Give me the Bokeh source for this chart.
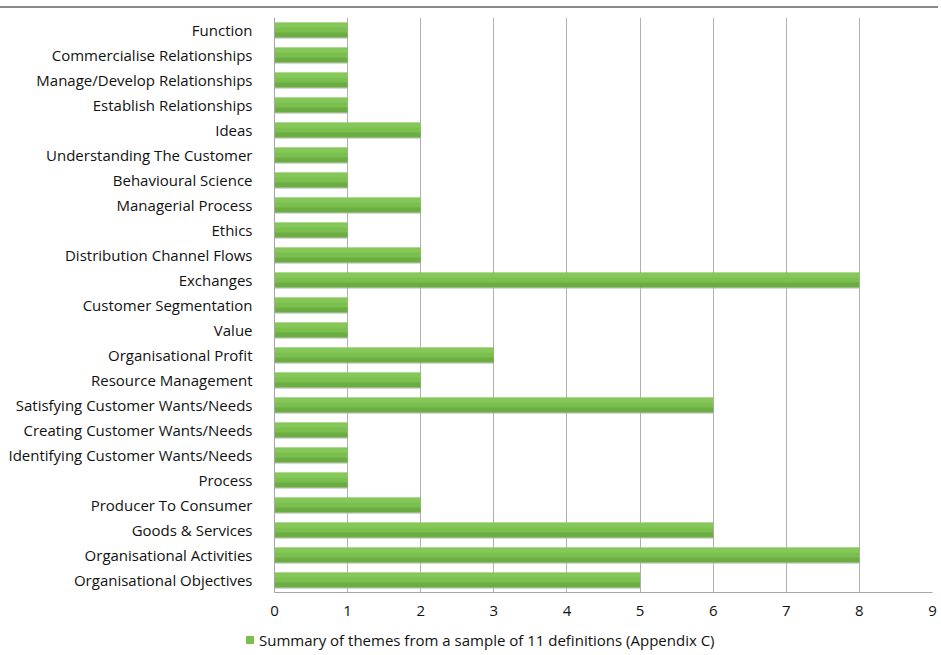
from bokeh.plotting import figure
from bokeh.layouts import column
from bokeh.models import FactorRange, ColumnDataSource, Div
from bokeh.transform import dodge
from bokeh.embed import file_html
from bokeh.resources import INLINE

# Categories from top to bottom as shown
categories_top_down = [
    "Function",
    "Commercialise Relationships",
    "Manage/Develop Relationships",
    "Establish Relationships",
    "Ideas",
    "Understanding The Customer",
    "Behavioural Science",
    "Managerial Process",
    "Ethics",
    "Distribution Channel Flows",
    "Exchanges",
    "Customer Segmentation",
    "Value",
    "Organisational Profit",
    "Resource Management",
    "Satisfying Customer Wants/Needs",
    "Creating Customer Wants/Needs",
    "Identifying Customer Wants/Needs",
    "Process",
    "Producer To Consumer",
    "Goods & Services",
    "Organisational Activities",
    "Organisational Objectives",
]
counts_top_down = [1, 1, 1, 1, 2, 1, 1, 2, 1, 2, 8, 1, 1, 3, 2, 6, 1, 1, 1, 2, 6, 8, 5]
x_ticks = [0, 1, 2, 3, 4, 5, 6, 7, 8, 9]
series_name = "Summary of themes from a sample of 11 definitions (Appendix C)"

cats = list(reversed(categories_top_down))
vals = list(reversed(counts_top_down))
src = ColumnDataSource(dict(cat=cats, val=vals))

FONT = "Open Sans"
BAR = "#7bc04e"

p = figure(
    width=938, height=617,
    y_range=FactorRange(factors=cats, range_padding=0),
    x_range=(0, 9),
    output_backend="svg", toolbar_location=None,
    min_border_left=274, min_border_right=6, min_border_top=9, min_border_bottom=33,
)
p.outline_line_color = None
p.styles = {"border-top": "2px solid #8a8a8a", "margin-top": "6px"}

# shadow
p.hbar(y=dodge("cat", -0.06, range=p.y_range), right="val", left=0, height=0.6,
       source=src, fill_color="#bdbdbd", fill_alpha=0.6, line_color=None)
# main bar
p.hbar(y="cat", right="val", left=0, height=0.6, source=src,
       fill_color=BAR, line_color=None)
# darker lower strip (gradient feel)
p.hbar(y=dodge("cat", -0.2, range=p.y_range), right="val", left=0, height=0.2,
       source=src, fill_color="#5f9c39", fill_alpha=0.55, line_color=None)
# lighter upper strip
p.hbar(y=dodge("cat", 0.2, range=p.y_range), right="val", left=0, height=0.2,
       source=src, fill_color="#8fd063", fill_alpha=0.5, line_color=None)

# grid
p.ygrid.grid_line_color = None
p.xgrid.grid_line_color = "#b0b0b0"
p.xgrid.grid_line_width = 1
p.xgrid.ticker = x_ticks

# x axis
p.xaxis.ticker = x_ticks
p.xaxis.axis_line_color = "#a6a6a6"
p.xaxis.major_tick_line_color = None
p.xaxis.minor_tick_line_color = None
p.xaxis.major_label_text_font = FONT
p.xaxis.major_label_text_font_size = "15px"
p.xaxis.major_label_text_color = "#111111"
p.xaxis.major_label_standoff = 7

# y axis
p.yaxis.axis_line_color = "#a6a6a6"
p.yaxis.major_tick_line_color = None
p.yaxis.minor_tick_line_color = None
p.yaxis.major_label_text_font = FONT
p.yaxis.major_label_text_font_size = "15px"
p.yaxis.major_label_text_color = "#111111"
p.yaxis.major_label_standoff = 16

# legend below the chart
legend_div = Div(
    text=(
        f'<span style="display:inline-block;width:8px;height:8px;'
        f'background:{BAR};margin-right:5px;vertical-align:middle;"></span>'
        f'<span style="vertical-align:middle;">{series_name}</span>'
    ),
    width=700, height=26,
    styles={
        "margin-left": "246px",
        "padding-top": "0px",
        "font-family": FONT,
        "font-size": "15px",
        "color": "#111111",
        "white-space": "nowrap",
        "line-height": "20px",
    },
)

layout = column(p, legend_div, spacing=0)
open("out.html", "w").write(file_html(layout, INLINE))
